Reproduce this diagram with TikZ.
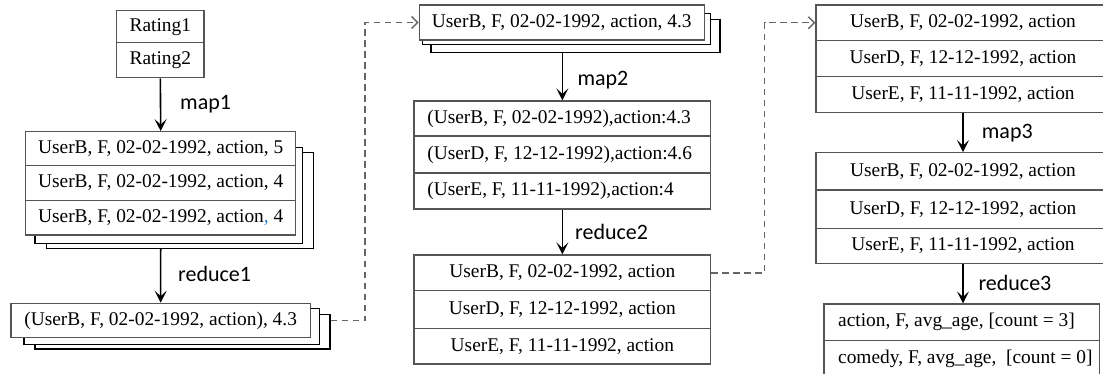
\documentclass[tikz,border=0pt]{standalone}
\usepackage{fontspec}
\setmainfont{Liberation Serif}
\newfontfamily\lblfont{Carlito}
\usetikzlibrary{arrows.meta}

\definecolor{boxgray}{HTML}{555555}
\definecolor{dashgray}{HTML}{666666}
\definecolor{commablue}{HTML}{2F7FD0}

\tikzset{
  cell/.style={draw=boxgray, line width=1.2pt, fill=white, inner sep=0pt,
    font=\fontsize{19.4}{22}\selectfont},
  shadowbox/.style={draw=black, line width=1.2pt, fill=white, inner sep=0pt},
  flow/.style={-{Stealth[length=12pt,width=12pt,inset=5.5pt]}, line width=1.6pt},
  hop/.style={-{Straight Barb[length=6pt,width=12pt,line width=1.4pt]}, draw=dashgray,
    line width=1.5pt, dash pattern=on 6.5pt off 4.5pt},
  lbl/.style={anchor=base west, inner sep=0pt,
    font=\lblfont\fontsize{22}{26}\selectfont}
}
% left-aligned row content of a fixed width
\newcommand{\lrow}[2]{\makebox[#1][l]{#2}}

\begin{document}
\begin{tikzpicture}[x=1pt, y=-1pt]
\useasboundingbox (0,0) rectangle (1103,374);
\clip (0,0) rectangle (1103,374);

% ---------- column 1: input ratings, map1, reduce1 ----------
\node[cell, minimum width=87.3pt, minimum height=32pt] (rat1) at (160.35,26.7) {Rating1};
\node[cell, minimum width=87.3pt, minimum height=35pt] (rat2) at (160.35,60.2) {Rating2};

\node[shadowbox, minimum width=266.6pt, minimum height=96pt] (s1l3) at (180,200.3) {};
\node[shadowbox, minimum width=267.3pt, minimum height=96pt] (s1l2) at (168.65,195.3) {};
\node[cell, minimum width=270pt, minimum height=34pt]   (s1a) at (160.7,148.7)  {UserB, F, 02-02-1992, action, 5};
\node[cell, minimum width=270pt, minimum height=34.6pt] (s1b) at (160.7,183)    {UserB, F, 02-02-1992, action, 4};
\node[cell, minimum width=270pt, minimum height=34.7pt] (s1c) at (160.7,217.65) {UserB, F, 02-02-1992, action{\color{commablue},} 4};

\node[shadowbox, minimum width=295pt, minimum height=34.7pt] (r1l3) at (182.5,331.65) {};
\node[shadowbox, minimum width=295.3pt, minimum height=36pt] (r1l2) at (171.65,326.3) {};
\node[cell, minimum width=299.3pt, minimum height=34.4pt] (r1) at (160.65,320.5) {(UserB, F, 02-02-1992, action), 4.3};

\draw[flow] (rat2.south) -- (s1a.north);
\draw[flow] (s1c.south |- s1l3.south) -- (r1.north);
\node[lbl] (lm1) at (180,110) {map1};
\node[lbl] (lr1) at (178,281) {reduce1};

% ---------- column 2: map2, reduce2 ----------
\node[shadowbox, minimum width=289pt, minimum height=33.4pt] (t2l3) at (575.5,36) {};
\node[shadowbox, minimum width=288pt, minimum height=31pt] (t2l2) at (566.7,28.8) {};
\node[cell, minimum width=285pt, minimum height=35pt] (t2) at (561.8,22.5) {UserB, F, 02-02-1992, action, 4.3};

\node[cell, minimum width=296.7pt, minimum height=35pt] (m2a) at (562.35,118.5) {\lrow{270pt}{(UserB, F, 02-02-1992),action:4.3}};
\node[cell, minimum width=296.7pt, minimum height=37pt] (m2b) at (562.35,154.5) {\lrow{270pt}{(UserD, F, 12-12-1992),action:4.6}};
\node[cell, minimum width=296.7pt, minimum height=36pt] (m2c) at (562.35,191)   {\lrow{270pt}{(UserE, F, 11-11-1992),action:4}};

\node[cell, minimum width=296.7pt, minimum height=35.7pt] (r2a) at (562.35,272.85) {UserB, F, 02-02-1992, action};
\node[cell, minimum width=296.7pt, minimum height=37.6pt] (r2b) at (562.35,309.5)  {UserD, F, 12-12-1992, action};
\node[cell, minimum width=296.7pt, minimum height=35.7pt] (r2c) at (562.35,346.15) {UserE, F, 11-11-1992, action};

\draw[flow] (m2a.north |- t2l3.south) -- (m2a.north);
\draw[flow] (m2c.south) -- (r2a.north);
\node[lbl] (lm2) at (577.3,86) {map2};
\node[lbl] (lr2) at (575,240) {reduce2};

% ---------- column 3: map3, reduce3 ----------
\node[cell, minimum width=294pt, minimum height=35.5pt] (m3a) at (963,22.75) {UserB, F, 02-02-1992, action};
\node[cell, minimum width=294pt, minimum height=36pt]   (m3b) at (963,58.5)  {UserD, F, 12-12-1992, action};
\node[cell, minimum width=294pt, minimum height=36pt]   (m3c) at (963,94.5)  {UserE, F, 11-11-1992, action};

\node[cell, minimum width=294pt, minimum height=37.3pt] (r3a) at (963,171.35) {UserB, F, 02-02-1992, action};
\node[cell, minimum width=294pt, minimum height=38.3pt] (r3b) at (963,209.15) {UserD, F, 12-12-1992, action};
\node[cell, minimum width=294pt, minimum height=35pt]   (r3c) at (963,245.8)  {UserE, F, 11-11-1992, action};

\node[cell, minimum width=275.3pt, minimum height=36.7pt] (outA) at (961.65,322.35) {\lrow{247pt}{action, F, avg\_age, [count = 3]}};
\node[cell, minimum width=275.3pt, minimum height=36.7pt] (outB) at (961.65,359.05) {\lrow{247pt}{comedy, F, avg\_age,~ [count = 0]}};

\draw[flow] (m3c.south) -- (r3a.north);
\draw[flow] (r3c.south) -- (r3c.south |- outA.north);
\node[lbl] (lm3) at (981.7,138.5) {map3};
\node[lbl] (lr3) at (978.3,290.7) {reduce3};

% ---------- dashed hand-offs between jobs ----------
\draw[hop] (r1.center -| r1l3.east) -- ++(34.5,0) |- (t2.west);
\draw[hop] (r2a.east) -- ++(53.3,0) |- (m3a.west);
\end{tikzpicture}
\end{document}
